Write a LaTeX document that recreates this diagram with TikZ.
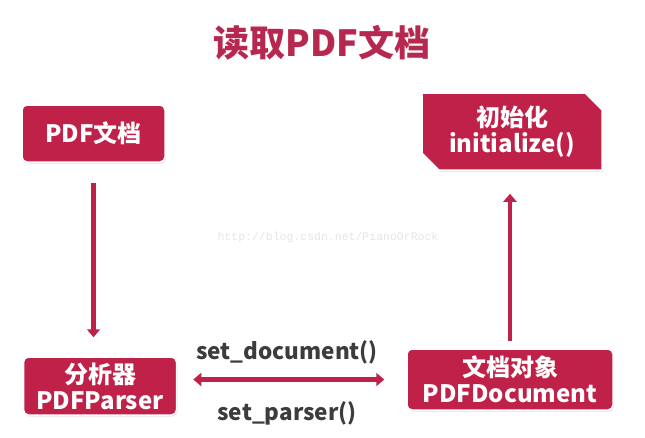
\documentclass[tikz,border=0pt]{standalone}
\usepackage{fontspec}
\usepackage{tikz}
\usetikzlibrary{positioning,calc}
\usetikzlibrary{arrows.meta,shapes.misc,shadows}
\newfontfamily\cjk{Noto Sans CJK SC}
\newfontfamily\wmfont{Liberation Mono}
\definecolor{PdfRed}{RGB}{192,33,72}
\definecolor{TitleRed}{RGB}{183,40,80}
\definecolor{LabelGray}{RGB}{60,60,60}
\tikzset{
  box/.style={draw=white,line width=1.5pt,fill=PdfRed,text=white,align=center,
    rounded corners=5pt,inner sep=0pt,
    drop shadow={opacity=0.22,shadow xshift=1pt,shadow yshift=-1.5pt},
    font=\cjk\bfseries\fontsize{24}{26}\selectfont},
  snipbox/.style={box,rounded corners=0pt,chamfered rectangle,
    chamfered rectangle corners={north east,south west},chamfered rectangle xsep=14pt},
  link/.style={draw=PdfRed,line width=4.5pt,-{Triangle[width=13pt,length=8pt]}},
  twoway/.style={draw=PdfRed,line width=4.5pt,{Triangle[width=13pt,length=8pt]}-{Triangle[width=13pt,length=8pt]}},
  call/.style={text=LabelGray,font=\cjk\bfseries\fontsize{22.5}{25}\selectfont},
}

\begin{document}
\begin{tikzpicture}[x=1pt,y=-1pt]
\useasboundingbox (0,0) rectangle (645,437);
\node[text=TitleRed,font=\cjk\bfseries\fontsize{36}{40}\selectfont] (title) at (322,43) {读取PDF文档};
\node[box,minimum width=143pt,minimum height=57pt] (doc) at (93.5,133.5) {PDF文档};
\node[snipbox,minimum width=180pt,minimum height=77pt] (init) at (512,131.5) {初始化\\initialize()};
\node[box,minimum width=153pt,minimum height=58pt] (parser) at (100,386) {分析器\\PDFParser};
\node[box,minimum width=206pt,minimum height=61pt] (pdfdoc) at (510,379.5) {文档对象\\PDFDocument};
\node[text=black!10,font=\wmfont\fontsize{11.5}{13}\selectfont] (mark) at (328,238) {http://blog.csdn.net/PianoOrRock};
\draw[link,shorten <=20pt,shorten >=19pt] (doc.south) -- (doc.south |- parser.north);
\draw[link,shorten <=7pt,shorten >=23pt] (pdfdoc.north) -- (pdfdoc.north |- init.south);
\draw[twoway,shorten <=16pt,shorten >=22pt] (pdfdoc.west -| parser.east) -- (pdfdoc.west);
\node[call] (setdoc) at (287,352) {set\_document()};
\node[call] (setparser) at (287,413) {set\_parser()};
\end{tikzpicture}
\end{document}
